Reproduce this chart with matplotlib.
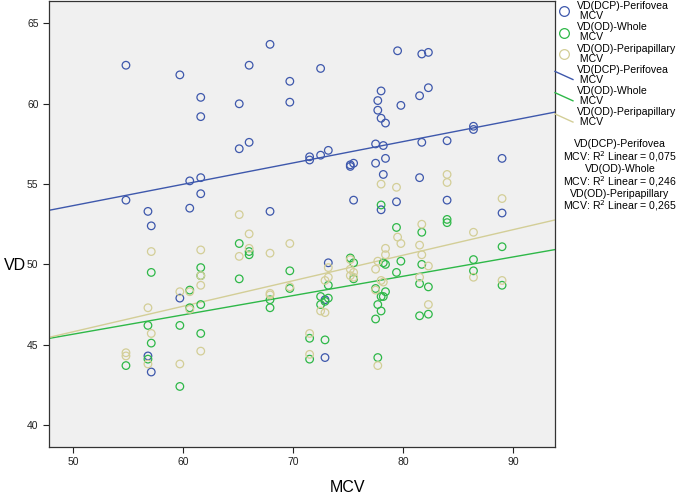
import numpy as np
import matplotlib
matplotlib.use("Agg")
import matplotlib.pyplot as plt
from matplotlib.lines import Line2D
from matplotlib.legend_handler import HandlerLine2D

plt.rcParams['font.family'] = ['Liberation Sans', 'DejaVu Sans']

# VD(DCP)-Perifovea vs MCV
mcv_dcp = [54.8, 59.7, 61.6, 61.6, 65.1, 66.0, 67.9, 66.0, 65.1, 60.6,
           61.6, 61.6, 54.8, 56.8, 60.6, 57.1, 67.9, 69.7, 69.7, 72.5,
           79.5, 81.7, 82.3, 78.0, 77.7, 77.7, 78.0, 78.4, 79.8, 81.5,
           82.3, 86.4, 86.4, 71.5, 71.5, 72.5, 73.2, 75.2, 75.2, 75.5,
           77.5, 78.2, 77.5, 78.4, 81.7, 84.0, 89.0, 78.2, 81.5, 75.5,
           79.4, 84.0, 89.0, 78.0, 59.7, 56.8, 57.1, 73.2, 72.9, 72.9]
vd_dcp = [62.4, 61.8, 60.4, 59.2, 60.0, 62.4, 63.7, 57.6, 57.2, 55.2,
          55.4, 54.4, 54.0, 53.3, 53.5, 52.4, 53.3, 61.4, 60.1, 62.2,
          63.3, 63.1, 63.2, 60.8, 60.2, 59.6, 59.1, 58.8, 59.9, 60.5,
          61.0, 58.6, 58.4, 56.7, 56.5, 56.8, 57.1, 56.1, 56.2, 56.3,
          57.5, 57.4, 56.3, 56.6, 57.6, 57.7, 56.6, 55.6, 55.4, 54.0,
          53.9, 54.0, 53.2, 53.4, 47.9, 44.3, 43.3, 50.1, 47.8, 44.2]

# VD(OD)-Whole vs MCV
mcv_whole = [57.1, 60.6, 60.6, 61.6, 61.6, 61.6, 56.8, 57.1, 54.8, 56.8,
             59.7, 59.7, 61.6, 65.1, 65.1, 66.0, 66.0, 67.9, 67.9, 69.7,
             69.7, 71.5, 71.5, 72.9, 72.5, 72.5, 73.2, 73.2, 72.9, 75.2,
             75.5, 75.5, 84.0, 84.0, 78.0, 79.4, 81.7, 79.8, 81.7, 79.4,
             77.5, 78.4, 78.2, 78.0, 77.7, 78.0, 77.5, 77.7, 78.2, 78.4,
             81.5, 82.3, 81.5, 82.3, 86.4, 86.4, 89.0, 89.0]
vd_whole = [49.5, 48.4, 47.3, 49.8, 49.3, 47.5, 46.2, 45.1, 43.7, 44.1,
            46.2, 42.4, 45.7, 51.3, 49.1, 50.8, 50.6, 47.8, 47.3, 49.6,
            48.5, 45.4, 44.1, 45.3, 48.0, 47.5, 48.7, 47.9, 47.7, 50.4,
            50.1, 49.1, 52.8, 52.6, 53.7, 52.3, 52.0, 50.2, 50.0, 49.5,
            48.5, 48.3, 48.0, 48.0, 47.5, 47.1, 46.6, 44.2, 50.1, 50.0,
            48.8, 48.6, 46.8, 46.9, 50.3, 49.6, 51.1, 48.7]

# VD(OD)-Peripapillary vs MCV
mcv_peri = [57.1, 59.7, 60.6, 60.6, 61.6, 61.6, 61.6, 56.8, 57.1, 54.8,
            54.8, 56.8, 59.7, 61.6, 65.1, 65.1, 66.0, 66.0, 67.9, 67.9,
            67.9, 69.7, 69.7, 71.5, 71.5, 72.5, 72.9, 72.9, 73.2, 73.2,
            75.2, 75.2, 75.5, 75.2, 75.5, 77.5, 77.7, 78.4, 78.4, 78.0,
            78.2, 77.5, 77.7, 78.0, 79.4, 79.5, 79.8, 81.5, 81.7, 81.7,
            82.3, 81.5, 82.3, 84.0, 84.0, 86.4, 86.4, 89.0, 89.0]
vd_peri = [50.8, 48.3, 48.3, 47.2, 50.9, 49.3, 48.7, 47.3, 45.7, 44.5,
           44.3, 43.8, 43.8, 44.6, 50.5, 53.1, 51.9, 51.0, 50.7, 48.2,
           48.1, 51.3, 48.6, 45.7, 44.4, 47.1, 47.0, 49.0, 49.8, 49.2,
           50.3, 49.7, 49.5, 49.3, 49.2, 49.7, 50.2, 51.0, 50.6, 49.0,
           48.9, 48.4, 43.7, 55.0, 54.8, 51.7, 51.3, 51.2, 52.5, 50.6,
           49.9, 49.2, 47.5, 55.6, 55.1, 52.0, 49.2, 54.1, 49.0]

labels = ['VD(DCP)-Perifovea', 'VD(OD)-Whole', 'VD(OD)-Peripapillary']
r2_text = ['0,075', '0,246', '0,265']
colors = ['#3e58ac', '#2eb848', '#d3ce97']

series = [(mcv_dcp, vd_dcp), (mcv_whole, vd_whole), (mcv_peri, vd_peri)]


class HandlerDiag(HandlerLine2D):
    # fit line legend keys drawn as a short falling diagonal
    def create_artists(self, legend, orig_handle, xdescent, ydescent,
                       width, height, fontsize, trans):
        ln = Line2D([-xdescent, width - xdescent],
                    [height * 1.0 - ydescent, -ydescent - height * 0.1],
                    color=orig_handle.get_color(), lw=orig_handle.get_linewidth())
        ln.set_transform(trans)
        return [ln]


fig = plt.figure(figsize=(6.85, 4.95), dpi=100)
ax = fig.add_axes([0.0715, 0.0976, 0.7385, 0.9004])
ax.set_facecolor('#f0f0f0')
ax.set_xlim(47.8, 93.8)
ax.set_ylim(38.65, 66.4)

# scatter points (open circles)
for (x, y), c in zip(series, colors):
    ax.scatter(x, y, s=30, facecolors='none', edgecolors=c, linewidths=0.9, zorder=3)

# linear fit lines across the full x range
xs = np.array(ax.get_xlim())
for (x, y), c in zip(series, colors):
    k, b = np.polyfit(x, y, 1)
    ax.plot(xs, k * xs + b, color=c, lw=1.0, zorder=2)

ax.set_xticks([50, 60, 70, 80, 90])
ax.set_yticks([40, 45, 50, 55, 60, 65])
ax.tick_params(direction='out', length=4, width=0.8, labelsize=7.5, colors='#222222')
for s in ax.spines.values():
    s.set_linewidth(0.9)
    s.set_color('#333333')

fig.text(348 / 685, 1 - 488 / 495, 'MCV', ha='center', va='center', fontsize=11.5)
fig.text(15 / 685, 1 - 265 / 495, 'VD', ha='center', va='center', fontsize=11.5)

# legend
handles = []
names = []
for lab, c in zip(labels, colors):
    handles.append(Line2D([], [], ls='none', marker='o', mfc='none', mec=c, ms=7, mew=0.9))
    names.append(lab + '\n MCV')
fit_handles = []
for lab, c in zip(labels, colors):
    h = Line2D([], [], color=c, lw=1.0)
    fit_handles.append(h)
    handles.append(h)
    names.append(lab + '\n MCV')
leg = fig.legend(handles, names, loc='upper left', bbox_to_anchor=(555 / 685, 1 - 1 / 495),
                 frameon=False, fontsize=7.6, labelspacing=0.12, handlelength=1.7,
                 handletextpad=0.4, borderpad=0, borderaxespad=0,
                 handler_map={h: HandlerDiag() for h in fit_handles})
for t in leg.get_texts():
    t.set_linespacing(1.0)

r2_lines = []
for lab, r in zip(labels, r2_text):
    r2_lines.append(lab + '\nMCV: R$^2$ Linear = ' + r)
fig.text(620 / 685, 1 - 139 / 495, '\n'.join(r2_lines), ha='center', va='top',
         multialignment='center', fontsize=7.6, linespacing=1.0)

fig.savefig('out.png', dpi=100)
